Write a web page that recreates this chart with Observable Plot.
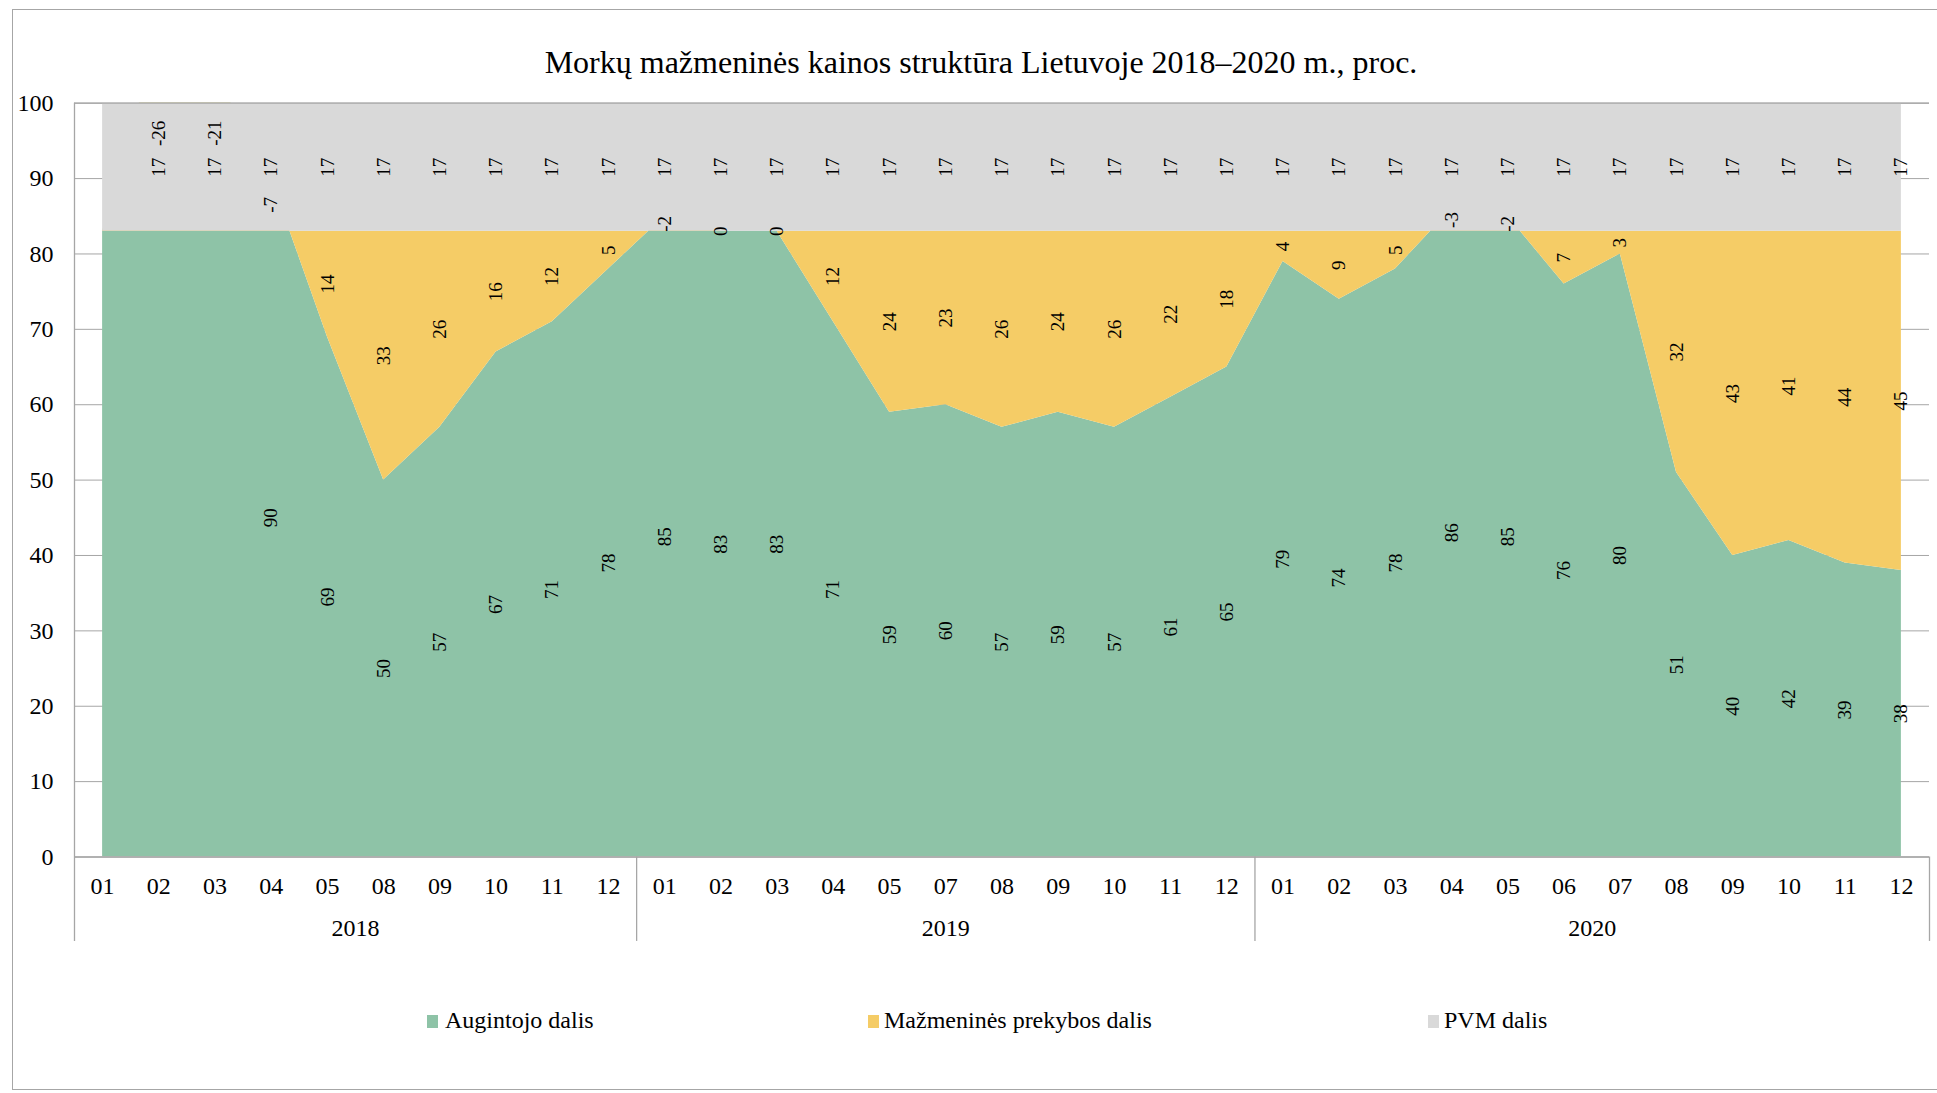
<!DOCTYPE html>
<html>
<head>
<meta charset="utf-8">
<script src="https://cdn.jsdelivr.net/npm/d3@7"></script>
<script src="https://cdn.jsdelivr.net/npm/@observablehq/plot@0.6"></script>
<style>
  html, body { margin: 0; padding: 0; background: #fff; }
  body { width: 1937px; height: 1093px; position: relative; overflow: hidden;
         font-family: "Liberation Serif", "Times New Roman", serif; color: #000; }
  #frame { position: absolute; left: 12px; top: 9px; width: 1960px; height: 1081px;
           border: 1px solid #a6a6a6; box-sizing: border-box; }
  #title { position: absolute; left: 0; top: 46px; width: 1962px; text-align: center;
           font-size: 32px; line-height: 32px; white-space: nowrap; }
  #chart { position: absolute; left: 0; top: 0; }
  .leg { position: absolute; top: 1008px; font-size: 24px; line-height: 24px; white-space: nowrap; }
  .sw { position: absolute; top: 1015px; width: 11px; height: 13px; }
</style>
</head>
<body>
<div id="frame"></div>
<div id="chart"></div>
<div id="title">Morkų mažmeninės kainos struktūra Lietuvoje 2018–2020 m., proc.</div>
<div id="legend"></div>
<script>
// ---- data ----
const years = ["2018", "2019", "2020"];
const months2018 = ["01","02","03","04","05","08","09","10","11","12"];
const months2019 = ["01","02","03","04","05","07","08","09","10","11","12"];
const months2020 = ["01","02","03","04","05","06","07","08","09","10","11","12"];

const grower2018 = [83, 109, 104, 90, 69, 50, 57, 67, 71, 78];
const grower2019 = [85, 83, 83, 71, 59, 60, 57, 59, 57, 61, 65];
const grower2020 = [79, 74, 78, 86, 85, 76, 80, 51, 40, 42, 39, 38];

const retail2018 = [0, -26, -21, -7, 14, 33, 26, 16, 12, 5];
const retail2019 = [-2, 0, 0, 12, 24, 23, 26, 24, 26, 22, 18];
const retail2020 = [4, 9, 5, -3, -2, 7, 3, 32, 43, 41, 44, 45];

const vat2018 = [17, 17, 17, 17, 17, 17, 17, 17, 17, 17];
const vat2019 = [17, 17, 17, 17, 17, 17, 17, 17, 17, 17, 17];
const vat2020 = [17, 17, 17, 17, 17, 17, 17, 17, 17, 17, 17, 17];

const seriesNames = ["Augintojo dalis", "Mažmeninės prekybos dalis", "PVM dalis"];
const seriesColors = ["#8ec3a7", "#f5cc66", "#d9d9d9"];

// labels not shown in the original chart: [year, month, series index]
const hiddenLabels = [["2018","01",0],["2018","01",1],["2018","01",2],["2018","02",0],["2018","03",0]];

const yTicks = [0, 10, 20, 30, 40, 50, 60, 70, 80, 90, 100];

// ---- build table ----
const monthsByYear = [months2018, months2019, months2020];
const growerByYear = [grower2018, grower2019, grower2020];
const retailByYear = [retail2018, retail2019, retail2020];
const vatByYear = [vat2018, vat2019, vat2020];

const rows = [];
const groups = [];
let idx = 0;
years.forEach((yr, k) => {
  const start = idx;
  monthsByYear[k].forEach((m, j) => {
    const g = growerByYear[k][j], r = retailByYear[k][j], v = vatByYear[k][j];
    rows.push({i: idx, year: yr, month: m, grower: g, retail: r, vat: v, top: g + r, end: g + r + v});
    idx++;
  });
  groups.push({year: yr, start, end: idx - 1, center: (start + idx - 1) / 2});
});
const n = rows.length;
const separators = groups.slice(1).map(g => g.start - 0.5);
const edges = [-0.5, n - 0.5];
const belowAxis = -11.2; // extent of the category-axis boxes, in y units

const isHidden = (r, s) => hiddenLabels.some(h => h[0] === r.year && h[1] === r.month && h[2] === s);
const labels = [];
rows.forEach(r => {
  const segs = [[0, r.grower, r.grower], [r.grower, r.top, r.retail], [r.top, r.end, r.vat]];
  segs.forEach(([a, b, val], s) => {
    if (isHidden(r, s)) return;
    // the original chart had the label of 03/2018 retail moved up to avoid overlapping the VAT label
    const nudge = (r.year === "2018" && r.month === "03" && s === 1) ? -19 : 0;
    labels.push({i: r.i, mid: (a + b) / 2, text: String(val), nudge});
  });
});

const lineColor = "#a6a6a6";

const chart = Plot.plot({
  width: 1937,
  height: 960,
  marginLeft: 74,
  marginRight: 8,
  marginTop: 102.7,
  marginBottom: 103.5,
  x: {type: "linear", domain: [-0.5, n - 0.5], axis: null},
  y: {domain: [0, 100], axis: null},
  style: {fontFamily: "'Liberation Serif','Times New Roman',serif", fontSize: "24px", color: "#000", background: "transparent", overflow: "visible"},
  marks: [
    Plot.ruleY(yTicks, {y: d => d, stroke: lineColor, strokeWidth: 1}),
    Plot.areaY(rows, {x: "i", y1: d => 0, y2: "grower", fill: seriesColors[0], clip: true}),
    Plot.areaY(rows, {x: "i", y1: "grower", y2: "top", fill: seriesColors[1], clip: true}),
    Plot.areaY(rows, {x: "i", y1: "top", y2: d => 100, fill: seriesColors[2], clip: true}),
    Plot.ruleY([0, 100], {y: d => d, stroke: lineColor, strokeWidth: 1.3}),
    Plot.ruleX([edges[0]], {x: d => d, y1: d => 100, y2: d => belowAxis, stroke: lineColor, strokeWidth: 1.3}),
    Plot.ruleX([edges[1]], {x: d => d, y1: d => 0, y2: d => belowAxis, stroke: lineColor, strokeWidth: 1.3}),
    Plot.ruleX(separators, {x: d => d, y1: d => 0, y2: d => belowAxis, stroke: lineColor, strokeWidth: 1.3}),
    Plot.text(yTicks, {x: d => edges[0], y: d => d, text: d => String(d), textAnchor: "end", dx: -21, fontSize: 24, fill: "#000"}),
    Plot.text(rows, {x: "i", y: d => 0, text: "month", dy: 29, fontSize: 24, fill: "#000"}),
    Plot.text(groups, {x: "center", y: d => 0, text: "year", dy: 71.5, fontSize: 24, fill: "#000"}),
    Plot.text(labels.filter(d => d.nudge === 0), {x: "i", y: "mid", text: "text", rotate: -90, fontSize: 19, fill: "#000"}),
    Plot.text(labels.filter(d => d.nudge !== 0), {x: "i", y: "mid", text: "text", rotate: -90, dy: -19, fontSize: 19, fill: "#000"})
  ]
});
document.getElementById("chart").appendChild(chart);

// ---- legend ----
const legendPos = [[427, 445], [868, 884], [1428, 1444]];
const legend = document.getElementById("legend");
seriesNames.forEach((name, k) => {
  const sw = document.createElement("div");
  sw.className = "sw";
  sw.style.left = legendPos[k][0] + "px";
  sw.style.background = seriesColors[k];
  legend.appendChild(sw);
  const t = document.createElement("div");
  t.className = "leg";
  t.style.left = legendPos[k][1] + "px";
  t.textContent = name;
  legend.appendChild(t);
});
</script>
</body>
</html>
